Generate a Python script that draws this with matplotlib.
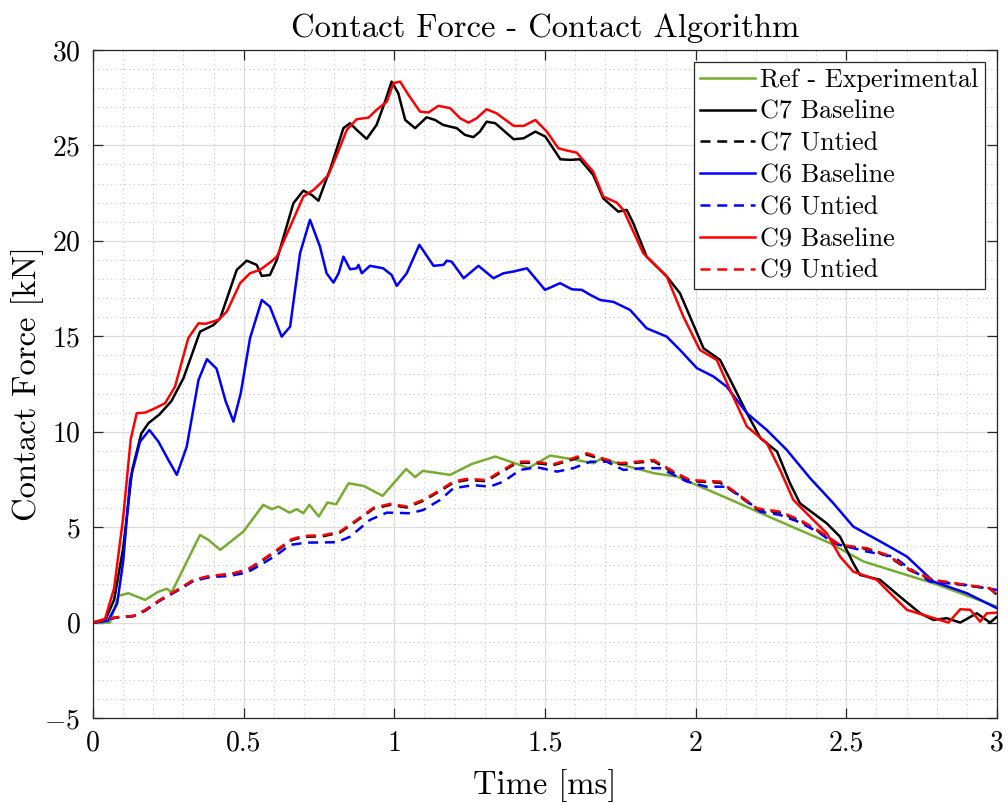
import matplotlib
matplotlib.use("Agg")
import matplotlib.pyplot as plt
from matplotlib.ticker import MultipleLocator

plt.rcParams['font.family'] = ['cmr10', 'DejaVu Serif']
plt.rcParams['mathtext.fontset'] = 'cm'
plt.rcParams['axes.formatter.use_mathtext'] = True

# Experimental reference curve
t_ref = [0.0, 0.056, 0.084, 0.117, 0.173, 0.217, 0.245, 0.261, 0.355, 0.383, 0.422, 0.499,
         0.565, 0.593, 0.615, 0.652, 0.676, 0.698, 0.718, 0.749, 0.778, 0.807, 0.848, 0.898,
         0.961, 1.039, 1.069, 1.094, 1.185, 1.257, 1.335, 1.407, 1.445, 1.517, 1.575, 1.661,
         1.688, 1.760, 1.860, 1.937, 2.100, 2.250, 2.446, 2.557, 2.789, 3.0]
f_ref = [0.0, 0.0, 1.40, 1.54, 1.19, 1.62, 1.77, 1.59, 4.59, 4.33, 3.81, 4.77,
         6.17, 5.94, 6.08, 5.76, 5.94, 5.73, 6.17, 5.56, 6.29, 6.20, 7.30, 7.16,
         6.64, 8.05, 7.62, 7.95, 7.74, 8.31, 8.70, 8.31, 8.10, 8.75, 8.60, 8.35,
         8.61, 8.25, 7.83, 7.65, 6.55, 5.50, 4.16, 3.20, 2.06, 0.84]

# C7 Baseline
t_c7b = [0.0, 0.04, 0.07, 0.10, 0.13, 0.16, 0.184, 0.22, 0.26, 0.30, 0.355, 0.40, 0.422,
         0.477, 0.51, 0.543, 0.56, 0.587, 0.61, 0.665, 0.698, 0.726, 0.748, 0.788, 0.831,
         0.853, 0.875, 0.908, 0.941, 0.969, 0.991, 1.013, 1.036, 1.069, 1.107, 1.135, 1.162,
         1.207, 1.234, 1.262, 1.284, 1.306, 1.335, 1.396, 1.429, 1.468, 1.501, 1.551, 1.583,
         1.616, 1.66, 1.693, 1.743, 1.771, 1.793, 1.837, 1.904, 1.948, 1.981, 2.026, 2.081,
         2.126, 2.17, 2.215, 2.27, 2.313, 2.346, 2.435, 2.479, 2.523, 2.545, 2.612, 2.678,
         2.745, 2.789, 2.833, 2.878, 2.933, 2.977, 3.0]
f_c7b = [0.0, 0.1, 1.2, 3.9, 8.0, 9.9, 10.45, 10.9, 11.6, 12.8, 15.24, 15.59, 15.95,
         18.48, 18.96, 18.74, 18.16, 18.21, 19.0, 21.97, 22.63, 22.4, 22.1, 23.8, 25.9,
         26.16, 25.81, 25.34, 26.07, 27.29, 28.34, 27.73, 26.33, 25.9, 26.47, 26.33, 26.07,
         25.9, 25.55, 25.43, 25.72, 26.24, 26.16, 25.32, 25.37, 25.72, 25.46, 24.27, 24.24,
         24.27, 23.45, 22.23, 21.53, 21.62, 20.92, 19.17, 18.13, 17.25, 16.03, 14.37, 13.76,
         12.36, 10.97, 9.66, 8.96, 7.3, 6.25, 5.2, 4.5, 3.11, 2.5, 2.24, 1.36,
         0.49, 0.14, 0.23, 0.0, 0.49, 0.0, 0.31]

# C7 Untied
t_c7u = [0.0, 0.045, 0.09, 0.134, 0.173, 0.222, 0.289, 0.333, 0.388, 0.455, 0.51, 0.554,
         0.61, 0.659, 0.698, 0.765, 0.82, 0.875, 0.931, 0.987, 1.041, 1.096, 1.152, 1.196,
         1.24, 1.306, 1.351, 1.407, 1.462, 1.528, 1.583, 1.639, 1.688, 1.749, 1.805, 1.86,
         1.927, 1.981, 2.036, 2.081, 2.136, 2.203, 2.28, 2.346, 2.413, 2.479, 2.568, 2.634,
         2.712, 2.789, 2.9, 2.977, 3.0]
f_c7u = [0.0, 0.17, 0.30, 0.34, 0.64, 1.17, 1.78, 2.22, 2.43, 2.53, 2.73, 3.16,
         3.76, 4.32, 4.49, 4.53, 4.72, 5.33, 5.97, 6.17, 6.03, 6.38, 6.90, 7.33,
         7.47, 7.41, 7.85, 8.37, 8.37, 8.25, 8.50, 8.80, 8.55, 8.30, 8.38, 8.46,
         7.86, 7.42, 7.37, 7.33, 6.73, 5.94, 5.76, 5.33, 4.72, 4.03, 3.86, 3.51,
         2.73, 2.21, 1.94, 1.78, 1.45]

# C6 Baseline
t_c6b = [0.0, 0.05, 0.08, 0.10, 0.123, 0.156, 0.187, 0.217, 0.25, 0.278, 0.311, 0.35,
         0.378, 0.41, 0.44, 0.466, 0.49, 0.521, 0.56, 0.587, 0.626, 0.654, 0.687, 0.72,
         0.753, 0.775, 0.798, 0.815, 0.831, 0.853, 0.875, 0.881, 0.892, 0.919, 0.963, 0.991,
         1.008, 1.041, 1.083, 1.13, 1.163, 1.174, 1.19, 1.23, 1.279, 1.329, 1.362, 1.395,
         1.44, 1.50, 1.55, 1.589, 1.622, 1.65, 1.683, 1.727, 1.782, 1.837, 1.904, 1.948,
         2.004, 2.059, 2.103, 2.17, 2.236, 2.302, 2.38, 2.457, 2.523, 2.623, 2.701, 2.789,
         2.9, 3.0]
f_c6b = [0.0, 0.1, 1.0, 3.2, 7.47, 9.48, 10.09, 9.48, 8.52, 7.74, 9.22, 12.71,
         13.8, 13.3, 11.6, 10.53, 12.0, 14.9, 16.9, 16.55, 14.98, 15.5, 19.35, 21.1,
         19.7, 18.3, 17.81, 18.3, 19.17, 18.51, 18.56, 18.74, 18.3, 18.69, 18.56, 18.21,
         17.64, 18.3, 19.79, 18.69, 18.74, 18.96, 18.91, 18.04, 18.69, 18.04, 18.3, 18.39,
         18.56, 17.43, 17.78, 17.46, 17.43, 17.17, 16.9, 16.8, 16.38, 15.42, 14.98, 14.28,
         13.33, 12.89, 12.36, 10.97, 10.09, 9.05, 7.56, 6.25, 5.03, 4.16, 3.46, 2.15,
         1.54, 0.75]

# C6 Untied
t_c6u = [0.0, 0.045, 0.09, 0.134, 0.173, 0.222, 0.289, 0.333, 0.388, 0.455, 0.51, 0.554,
         0.61, 0.654, 0.709, 0.809, 0.853, 0.919, 0.975, 1.052, 1.096, 1.152, 1.196, 1.262,
         1.317, 1.362, 1.418, 1.473, 1.54, 1.594, 1.65, 1.705, 1.76, 1.826, 1.882, 1.927,
         1.971, 2.036, 2.103, 2.158, 2.215, 2.28, 2.346, 2.413, 2.457, 2.568, 2.656, 2.701,
         2.778, 2.9, 3.0]
f_c6u = [0.0, 0.17, 0.30, 0.34, 0.62, 1.15, 1.75, 2.18, 2.38, 2.45, 2.62, 3.0,
         3.55, 4.07, 4.19, 4.21, 4.5, 5.38, 5.76, 5.73, 5.9, 6.43, 7.04, 7.2,
         7.12, 7.39, 8.0, 8.14, 7.91, 8.09, 8.43, 8.43, 8.0, 8.09, 8.09, 7.74,
         7.39, 7.12, 7.12, 6.52, 5.81, 5.64, 5.25, 4.68, 4.16, 3.72, 3.46, 2.93,
         2.15, 1.97, 1.71]

# C9 Baseline
t_c9b = [0.0, 0.04, 0.07, 0.10, 0.125, 0.145, 0.173, 0.206, 0.239, 0.272, 0.316, 0.35,
         0.373, 0.416, 0.444, 0.488, 0.521, 0.554, 0.587, 0.61, 0.654, 0.698, 0.732, 0.753,
         0.781, 0.809, 0.842, 0.875, 0.914, 0.941, 0.975, 0.997, 1.019, 1.047, 1.085, 1.113,
         1.146, 1.185, 1.218, 1.246, 1.273, 1.306, 1.339, 1.396, 1.429, 1.468, 1.506, 1.544,
         1.572, 1.605, 1.66, 1.693, 1.738, 1.76, 1.826, 1.904, 1.959, 2.014, 2.07, 2.114,
         2.17, 2.236, 2.28, 2.324, 2.39, 2.435, 2.479, 2.523, 2.601, 2.645, 2.701, 2.756,
         2.839, 2.878, 2.911, 2.944, 2.966, 3.0]
f_c9b = [0.0, 0.2, 1.8, 5.5, 9.6, 10.97, 11.0, 11.23, 11.49, 12.36, 14.9, 15.68,
         15.65, 15.86, 16.29, 17.78, 18.3, 18.48, 18.86, 19.17, 20.74, 22.32, 22.67, 22.98,
         23.45, 24.5, 25.81, 26.37, 26.45, 26.86, 27.29, 28.26, 28.34, 27.64, 26.77, 26.72,
         27.07, 26.95, 26.42, 26.19, 26.42, 26.89, 26.68, 26.02, 26.02, 26.33, 25.72, 24.85,
         24.73, 24.62, 23.62, 22.32, 22.0, 21.62, 19.35, 18.13, 16.03, 14.28, 13.76, 12.19,
         10.27, 9.4, 8.0, 6.43, 5.38, 4.68, 3.46, 2.67, 2.24, 1.54, 0.67, 0.4,
         0.0, 0.7, 0.67, 0.05, 0.49, 0.52]

# C9 Untied
t_c9u = [0.0, 0.045, 0.09, 0.134, 0.173, 0.222, 0.289, 0.333, 0.388, 0.455, 0.51, 0.554,
         0.61, 0.659, 0.698, 0.765, 0.82, 0.875, 0.931, 0.987, 1.041, 1.096, 1.152, 1.196,
         1.24, 1.306, 1.351, 1.407, 1.462, 1.528, 1.583, 1.639, 1.688, 1.749, 1.805, 1.86,
         1.927, 1.981, 2.036, 2.081, 2.136, 2.203, 2.28, 2.346, 2.413, 2.479, 2.568, 2.634,
         2.712, 2.789, 2.9, 2.977, 3.0]
f_c9u = [0.0, 0.18, 0.31, 0.35, 0.66, 1.19, 1.80, 2.24, 2.45, 2.55, 2.76, 3.20,
         3.81, 4.37, 4.54, 4.58, 4.77, 5.38, 6.02, 6.22, 6.08, 6.43, 6.95, 7.39,
         7.53, 7.47, 7.91, 8.43, 8.43, 8.30, 8.56, 8.87, 8.61, 8.35, 8.43, 8.52,
         7.91, 7.47, 7.42, 7.39, 6.78, 5.99, 5.81, 5.38, 4.77, 4.07, 3.90, 3.55,
         2.76, 2.24, 1.97, 1.80, 1.45]

x_ticks = [0, 0.5, 1, 1.5, 2, 2.5, 3]
x_labels = ['0', '0.5', '1', '1.5', '2', '2.5', '3']

green = '#77AC30'
lw = 1.8
dash = (4.0, 2.7)

fig = plt.figure(figsize=(10.08, 8.05), dpi=100)
ax = fig.add_axes([0.0923, 0.108, 0.8968, 0.830])

ax.plot(t_ref, f_ref, color=green, lw=lw, label='Ref - Experimental')
ax.plot(t_c7b, f_c7b, color='k', lw=lw, label='C7 Baseline')
ax.plot(t_c7u, f_c7u, color='k', lw=lw, ls='--', dashes=dash, label='C7 Untied')
ax.plot(t_c6b, f_c6b, color='b', lw=lw, label='C6 Baseline')
ax.plot(t_c6u, f_c6u, color='b', lw=lw, ls='--', dashes=dash, label='C6 Untied')
ax.plot(t_c9b, f_c9b, color='r', lw=lw, label='C9 Baseline')
ax.plot(t_c9u, f_c9u, color='r', lw=lw, ls='--', dashes=dash, label='C9 Untied')

ax.set_xlim(0, 3)
ax.set_ylim(-5, 30)
ax.set_xticks(x_ticks, x_labels)
ax.xaxis.set_minor_locator(MultipleLocator(0.1))
ax.yaxis.set_major_locator(MultipleLocator(5))
ax.yaxis.set_minor_locator(MultipleLocator(1))

ax.grid(which='major', color='#dcdcdc', lw=0.9)
ax.grid(which='minor', color='#c8c8c8', lw=0.8, ls=(0, (1, 3)))
ax.set_axisbelow(True)

for s in ax.spines.values():
    s.set_color('#262626')
    s.set_linewidth(0.9)
ax.tick_params(which='major', direction='in', length=7, width=0.9, color='#262626',
               top=True, right=True, labelsize=20, pad=9)
ax.tick_params(which='minor', length=0, top=True, right=True)

ax.set_title('Contact Force - Contact Algorithm', fontsize=23.5, pad=9)
ax.set_xlabel('Time [ms]', fontsize=23.5, labelpad=9)
ax.set_ylabel('Contact Force [kN]', fontsize=23.5, labelpad=0)

leg = ax.legend(loc='upper right', fontsize=18.8, frameon=True, fancybox=False,
                edgecolor='#262626', framealpha=1, handlelength=2.1, handletextpad=0.2,
                labelspacing=0.31, borderpad=0.25, borderaxespad=0.45)
leg.get_frame().set_linewidth(0.9)

fig.savefig('out.png', dpi=100)
